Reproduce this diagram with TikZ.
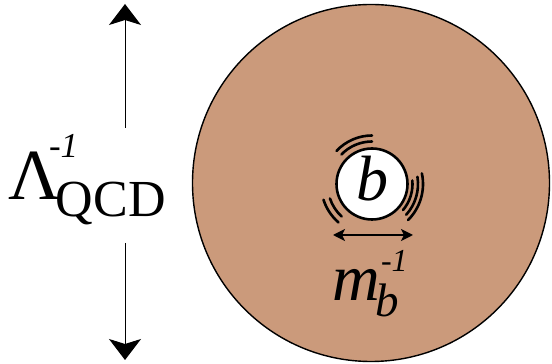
\documentclass[tikz,border=0pt]{standalone}
\usepackage{fontspec}
\setmainfont{Liberation Serif}
\usetikzlibrary{arrows.meta}
\definecolor{hadron}{RGB}{203,154,123}
\begin{document}
\begin{tikzpicture}[x=1pt,y=1pt,
  bigarrow/.style={line width=1pt,-{Stealth[length=21pt,width=32pt,inset=5pt]}},
  smallarrow/.style={line width=1.6pt,{Stealth[length=12pt,width=12pt,inset=3pt]}-{Stealth[length=12pt,width=12pt,inset=3pt]}},
  wave/.style={line width=2.6pt,line cap=round},
  lbl/.style={anchor=base west,inner sep=0pt,outer sep=0pt},
]
\useasboundingbox (0,0) rectangle (552,364);
\node[circle,draw,line width=1.4pt,fill=hadron,minimum size=357pt,inner sep=0pt] (had) at (371,181) {};
\node[circle,draw,line width=2.6pt,fill=white,minimum size=71pt,inner sep=0pt] (bq) at (372,180) {};
\node[font=\fontsize{64}{64}\selectfont\itshape,anchor=base,inner sep=0pt] (bt) at (372,163) {b};
% wave arcs
\draw[wave] ([shift={(90:42.5)}]bq.center) arc[start angle=90,end angle=136,radius=42.5];
\draw[wave] ([shift={(90:48.5)}]bq.center) arc[start angle=90,end angle=137,radius=48.5];
\draw[wave] ([shift={(5:40.5)}]bq.center) arc[start angle=5,end angle=-40,radius=40.5];
\draw[wave] ([shift={(9:46)}]bq.center) arc[start angle=9,end angle=-42,radius=46];
\draw[wave] ([shift={(12:51)}]bq.center) arc[start angle=12,end angle=-45,radius=51];
\draw[wave] ([shift={(199:44.5)}]bq.center) arc[start angle=199,end angle=227,radius=44.5];
\draw[wave] ([shift={(198:51)}]bq.center) arc[start angle=198,end angle=229,radius=51];
% size arrow
\coordinate (hl) at (333,129);
\coordinate (hr) at (413,129);
\draw[smallarrow] (hl) -- (hr);
\node[lbl,font=\fontsize{66}{66}\selectfont\itshape] (mb) at (332,63) {m};
\node[lbl,font=\fontsize{47}{47}\selectfont\itshape] (mbsub) at (375,47.3) {b};
\node[lbl,font=\fontsize{32}{32}\selectfont\itshape] (mbsup) at (381,92.3) {-1};
% Lambda label
\node[lbl,font=\fontsize{72}{72}\selectfont] (lam) at (9,164) {Λ};
\node[lbl,font=\fontsize{52}{52}\selectfont] (qcd) at (56,147) {QCD};
\node[lbl,font=\fontsize{35}{35}\selectfont\itshape] (lamsup) at (49,206) {-1};
% vertical arrows
\coordinate (vtop) at (125,360);
\coordinate (vtops) at (125,236);
\coordinate (vbot) at (125,4);
\coordinate (vbots) at (125,121);
\draw[bigarrow] (vtops) -- (vtop);
\draw[bigarrow] (vbots) -- (vbot);
\end{tikzpicture}
\end{document}
